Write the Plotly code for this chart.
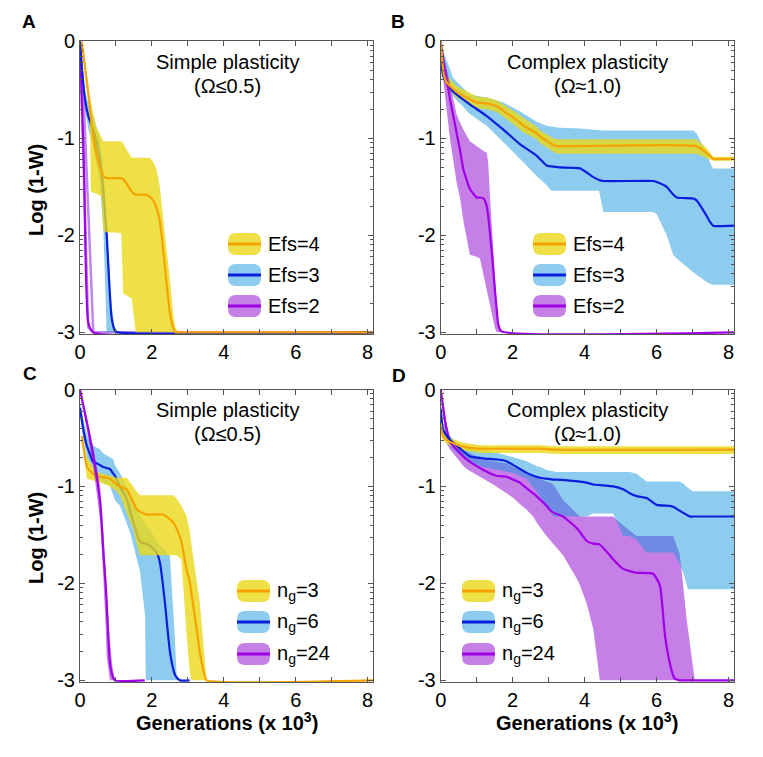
"""Four-panel fitness-convergence figure (log(1-W) vs generations) in Plotly."""

import math

import plotly.graph_objects as go

W, H = 763, 757
OFF = 8  # page body margin offsets the figure in the browser window
FONT = "Liberation Sans, Arial, sans-serif"

# ---------------------------------------------------------------------------
# Data: x in thousands of generations, y = log10(1-W); mean line + band edges
# ---------------------------------------------------------------------------
# Panel A (simple plasticity, Efs)
a_efs4_x = [0.05, 0.2, 0.28, 0.3, 0.45, 0.6, 0.65, 0.75, 1.0, 1.15, 1.2, 1.3, 1.44,
            1.55, 1.8, 1.94, 2.05, 2.13, 2.22, 2.3, 2.41, 2.5, 2.59, 2.65, 2.75, 8.15]
a_efs4_mean = [0, -0.45, -0.7, -0.78, -1.15, -1.35, -1.39, -1.41, -1.41, -1.41, -1.42, -1.47,
               -1.55, -1.58, -1.58, -1.6, -1.65, -1.72, -1.85, -2.1, -2.5, -2.8, -2.95, -3, -3, -3]
a_efs4_hi = [0, -0.4, -0.57, -0.62, -0.88, -1.0, -1.03, -1.03, -1.03, -1.03, -1.05, -1.12,
             -1.2, -1.2, -1.2, -1.2, -1.25, -1.32, -1.5, -1.8, -2.15, -2.45, -2.8, -2.95, -3, -3]
a_efs4_lo = [0, -0.5, -0.75, -1.55, -1.57, -1.6, -1.95, -1.97, -1.97, -1.98, -2.6, -2.62,
             -2.65, -3, -3, -3, -3, -3, -3, -3, -3, -3, -3, -3, -3, -3]

a_efs3_x = [0, 0.05, 0.14, 0.23, 0.4, 0.55, 0.65, 0.7, 0.74, 0.8, 0.88, 0.97, 1.05, 8.15]
a_efs3_mean = [0, -0.26, -0.6, -0.77, -0.95, -1.2, -1.55, -1.8, -1.97, -2.4, -2.85, -2.98,
               -3, -3]
a_efs3_hi = [0, -0.2, -0.5, -0.65, -0.8, -1.0, -1.3, -1.6, -1.85, -2.25, -2.75, -2.95, -3, -3]
a_efs3_lo = [0, -0.3, -0.7, -0.9, -1.15, -1.45, -1.95, -2.5, -3, -3, -3, -3, -3, -3]

a_efs2_x = [0, 0.11, 0.23, 0.37, 8.15]
a_efs2_mean = [0, -1.3, -2.9, -3, -3]
a_efs2_hi = [0, -0.67, -1.75, -3, -3]
a_efs2_lo = [0, -1.41, -2.95, -3, -3]

# Panel B (complex plasticity, Efs)
b_efs4_x = [0, 0.08, 0.16, 0.44, 1.0, 1.28, 1.56, 1.83, 2.11, 2.3, 2.67, 2.76, 3.13, 3.22,
            7.1, 7.39, 7.57, 8.15]
b_efs4_mean = [0, -0.33, -0.42, -0.52, -0.63, -0.64, -0.67, -0.74, -0.81, -0.87, -0.95, -0.98,
               -1.07, -1.08, -1.08, -1.15, -1.21, -1.21]
b_efs4_hi = [0, -0.25, -0.35, -0.46, -0.57, -0.58, -0.61, -0.67, -0.74, -0.79, -0.88, -0.92,
             -1.0, -1.01, -1.01, -1.1, -1.19, -1.19]
b_efs4_lo = [0, -0.38, -0.47, -0.58, -0.69, -0.7, -0.73, -0.8, -0.88, -0.94, -1.01, -1.05,
             -1.14, -1.16, -1.16, -1.2, -1.23, -1.23]

b_efs3_x = [0, 0.07, 0.35, 0.81, 1.28, 1.74, 2.2, 2.67, 2.94, 3.08, 3.31, 3.87, 4.24, 4.4,
            4.52, 5.9, 6.0, 6.28, 6.46, 6.56, 7.02, 7.11, 7.39, 7.48, 7.57, 8.15]
b_efs3_mean = [0, -0.36, -0.52, -0.65, -0.77, -0.91, -1.06, -1.18, -1.28, -1.29, -1.3, -1.31,
               -1.4, -1.43, -1.44, -1.44, -1.45, -1.5, -1.58, -1.61, -1.62, -1.64, -1.8, -1.86,
               -1.9, -1.9]
b_efs3_hi = [0, -0.1, -0.38, -0.55, -0.58, -0.63, -0.72, -0.83, -0.87, -0.88, -0.89, -0.9,
             -0.91, -0.91, -0.92, -0.92, -0.92, -0.92, -0.92, -0.92, -0.92, -0.95, -1.15,
             -1.25, -1.31, -1.31]
b_efs3_lo = [0, -0.4, -0.57, -0.75, -0.87, -1.04, -1.21, -1.39, -1.48, -1.54, -1.54, -1.54,
             -1.54, -1.54, -1.76, -1.76, -1.78, -2.0, -2.2, -2.24, -2.38, -2.41, -2.48, -2.5,
             -2.51, -2.51]

b_efs2_x = [0, 0.07, 0.17, 0.26, 0.44, 0.54, 0.63, 0.81, 1.0, 1.09, 1.19, 1.28, 1.32, 1.37,
            1.42, 1.51, 1.56, 1.6, 1.69, 8.15]
b_efs2_mean = [0, -0.2, -0.4, -0.6, -0.94, -1.13, -1.32, -1.52, -1.61, -1.61, -1.62, -1.7,
               -1.8, -1.98, -2.17, -2.58, -2.78, -2.92, -2.99, -3]
b_efs2_hi = [0, -0.12, -0.3, -0.45, -0.75, -0.84, -0.91, -1.03, -1.08, -1.11, -1.13, -1.15,
             -1.25, -1.6, -1.95, -2.44, -2.7, -2.9, -3, -3]
b_efs2_lo = [0, -0.4, -0.72, -1.01, -1.45, -1.62, -1.85, -2.2, -2.22, -2.24, -2.4, -2.58,
             -2.65, -2.73, -2.8, -2.96, -3, -3, -3, -3]

# Panel C (simple plasticity, ng)
c_ng3_x = [0.05, 0.19, 0.28, 0.46, 0.56, 0.83, 1.02, 1.11, 1.3, 1.48, 1.57, 1.67, 1.85, 2.31,
           2.59, 2.68, 2.82, 2.96, 3.05, 3.1, 3.24, 3.33, 3.38, 3.47, 3.52, 8.15]
c_ng3_mean = [-0.48, -0.79, -0.84, -0.89, -0.9, -0.92, -0.98, -1.0, -1.03, -1.16, -1.23, -1.26,
              -1.29, -1.29, -1.37, -1.43, -1.57, -1.85, -1.98, -2.1, -2.46, -2.7, -2.81, -2.95,
              -3, -3]
c_ng3_hi = [-0.48, -0.7, -0.75, -0.84, -0.86, -0.89, -0.91, -0.91, -0.91, -1.0, -1.05, -1.09,
            -1.09, -1.09, -1.09, -1.12, -1.2, -1.3, -1.45, -1.6, -1.95, -2.19, -2.4, -2.85, -3, -3]
c_ng3_lo = [-0.48, -0.92, -0.93, -0.95, -0.96, -1.0, -1.05, -1.09, -1.27, -1.44, -1.58, -1.71,
            -1.71, -1.71, -1.71, -1.71, -1.75, -2.5, -2.9, -3, -3, -3, -3, -3, -3, -3]

c_ng6_x = [0, 0.09, 0.19, 0.23, 0.37, 0.46, 0.56, 0.65, 0.83, 0.93, 0.97, 1.11, 1.3, 1.39,
           1.67, 1.81, 1.83, 1.94, 2.13, 2.22, 2.36, 2.41, 2.5, 2.59, 2.64, 2.69, 2.78, 3.05]
c_ng6_mean = [-0.19, -0.41, -0.58, -0.62, -0.75, -0.76, -0.78, -0.8, -0.82, -0.87, -0.89, -1.0,
              -1.13, -1.25, -1.57, -1.59, -1.59, -1.61, -1.68, -1.78, -2.19, -2.38, -2.7, -2.88,
              -2.94, -2.97, -3, -3]
c_ng6_hi = [-0.12, -0.3, -0.45, -0.5, -0.58, -0.6, -0.62, -0.66, -0.7, -0.72, -0.78, -0.86,
            -1.0, -1.08, -1.3, -1.38, -1.4, -1.45, -1.55, -1.6, -1.66, -1.69, -1.71, -2.2, -2.57,
            -2.97, -3, -3]
c_ng6_lo = [-0.25, -0.5, -0.7, -0.74, -0.86, -0.9, -0.94, -0.96, -0.99, -1.1, -1.14, -1.2,
            -1.38, -1.47, -1.88, -2.33, -3, -3, -3, -3, -3, -3, -3, -3, -3, -3, -3, -3]

c_ng24_x = [0, 0.19, 0.37, 0.56, 0.65, 0.72, 0.74, 0.83, 0.9, 0.97, 1.8]
c_ng24_mean = [0, -0.34, -0.68, -1.16, -1.68, -2.05, -2.19, -2.81, -2.95, -3, -3]
c_ng24_hi = [0, -0.28, -0.6, -1.0, -1.45, -1.85, -2.0, -2.6, -2.85, -3, -3]
c_ng24_lo = [0, -0.42, -0.8, -1.35, -1.95, -2.5, -2.75, -3, -3, -3, -3]

# Panel D (complex plasticity, ng)
d_ng3_x = [0, 0.07, 0.26, 0.63, 1.09, 2.76, 3.22, 8.15]
d_ng3_mean = [-0.35, -0.49, -0.54, -0.59, -0.61, -0.61, -0.62, -0.62]
d_ng3_hi = [-0.33, -0.45, -0.5, -0.55, -0.575, -0.575, -0.585, -0.585]
d_ng3_lo = [-0.37, -0.53, -0.58, -0.63, -0.655, -0.655, -0.665, -0.665]

d_ng6_x = [0, 0.07, 0.26, 0.44, 0.54, 0.81, 1.09, 1.18, 1.74, 1.83, 2.02, 2.39, 2.66, 2.76,
           2.94, 3.13, 3.22, 3.59, 3.87, 4.05, 4.24, 4.79, 5.07, 5.25, 5.44, 5.72, 6.0, 6.36,
           6.46, 6.64, 6.73, 6.87, 6.92, 7.01, 8.15]
d_ng6_mean = [-0.2, -0.42, -0.52, -0.58, -0.61, -0.69, -0.705, -0.71, -0.73, -0.74, -0.78,
              -0.86, -0.9, -0.91, -0.92, -0.93, -0.93, -0.94, -0.95, -0.96, -0.98, -1.0, -1.03,
              -1.07, -1.1, -1.12, -1.19, -1.2, -1.21, -1.25, -1.27, -1.3, -1.31, -1.31, -1.31]
d_ng6_hi = [-0.1, -0.35, -0.48, -0.55, -0.57, -0.6, -0.61, -0.62, -0.67, -0.68, -0.7, -0.74,
            -0.79, -0.8, -0.83, -0.84, -0.85, -0.85, -0.85, -0.85, -0.85, -0.85, -0.85, -0.85,
            -0.87, -0.95, -0.95, -0.95, -0.95, -0.95, -0.97, -1.02, -1.03, -1.05, -1.05]
d_ng6_lo = [-0.3, -0.5, -0.58, -0.65, -0.68, -0.75, -0.79, -0.8, -0.84, -0.85, -0.86, -0.92,
            -1.05, -1.1, -1.2, -1.31, -1.31, -1.31, -1.31, -1.31, -1.28, -1.28, -1.51, -1.51,
            -1.55, -1.68, -1.68, -1.68, -1.68, -1.8, -1.88, -2.06, -2.06, -2.06, -2.06]

d_ng24_x = [0, 0.12, 0.17, 0.26, 0.63, 0.72, 1.0, 1.09, 1.46, 1.55, 1.83, 2.02, 2.2, 2.39,
            2.57, 2.66, 2.94, 3.03, 3.13, 3.4, 3.78, 3.87, 4.05, 4.24, 4.42, 4.7, 4.79, 5.07,
            5.44, 5.9, 6.09, 6.23, 6.36, 6.46, 6.5, 6.64, 6.69, 6.83, 7.06, 8.15]
d_ng24_mean = [0, -0.32, -0.42, -0.54, -0.69, -0.72, -0.79, -0.81, -0.88, -0.89, -0.9, -0.93,
               -0.96, -1.02, -1.07, -1.1, -1.2, -1.24, -1.27, -1.31, -1.43, -1.47, -1.56, -1.59,
               -1.6, -1.71, -1.75, -1.85, -1.89, -1.9, -2.02, -2.53, -2.81, -2.95, -2.98, -3,
               -3, -3, -3, -3]
d_ng24_hi = [0, -0.28, -0.36, -0.49, -0.62, -0.64, -0.69, -0.71, -0.74, -0.745, -0.76, -0.8,
             -0.83, -0.87, -0.89, -0.9, -0.95, -0.96, -0.98, -1.14, -1.28, -1.31, -1.31, -1.31,
             -1.31, -1.31, -1.31, -1.4, -1.51, -1.51, -1.51, -1.51, -1.51, -1.51, -1.55, -1.7,
             -1.85, -2.36, -3, -3]
d_ng24_lo = [0, -0.45, -0.56, -0.62, -0.79, -0.82, -0.88, -0.9, -0.98, -1.0, -1.07, -1.12,
             -1.18, -1.24, -1.31, -1.37, -1.51, -1.55, -1.6, -1.71, -1.95, -2.02, -2.2, -2.47,
             -3, -3, -3, -3, -3, -3, -3, -3, -3, -3, -3, -3, -3, -3, -3, -3]

x_ticks = [0, 2, 4, 6, 8]
y_ticks = [-3, -2, -1, 0]
y_tick_text = ["-3", "-2", "-1", "0"]
efs_labels = ["Efs=4", "Efs=3", "Efs=2"]
ng_labels = ["n<sub>g</sub>=3", "n<sub>g</sub>=6", "n<sub>g</sub>=24"]

# ---------------------------------------------------------------------------
# Styling
# ---------------------------------------------------------------------------
ORANGE = "#F5A300"
BLUE = "#0A1EDC"
PURPLE = "#A000E8"
YELLOW_FILL = "rgba(234,216,24,0.8)"
BLUE_FILL = "rgba(27,151,223,0.5)"
PURPLE_FILL = "rgba(139,0,205,0.5)"
PURPLE_EDGE = "#BE86EC"
SWATCH = {"y": "#EEE046", "b": "#8DCBEF", "p": "#C580E6"}
LINE = {"y": ORANGE, "b": BLUE, "p": PURPLE}
FILL = {"y": YELLOW_FILL, "b": BLUE_FILL, "p": PURPLE_FILL}

X_MAX = 8.15
Y_MIN = -3.02
COL_X = [(80, 373), (440.7, 734)]
ROW_Y = [(41.3, 334.3), (389.5, 682.3)]


def px(x, y):
    """Target pixel position in the window -> paper coordinates."""
    return (x - OFF) / W, 1 - (y - OFF) / H


def band(x, lo, hi, kind, ax, outline=False):
    xs = list(x) + list(x)[::-1]
    ys = list(hi) + list(lo)[::-1]
    if outline:
        return go.Scatter(x=xs, y=ys, mode="lines", line=dict(color=PURPLE_EDGE, width=2.5),
                          xaxis=ax[0], yaxis=ax[1], hoverinfo="skip", showlegend=False)
    return go.Scatter(x=xs, y=ys, mode="lines", fill="toself", fillcolor=FILL[kind],
                      line=dict(width=0), xaxis=ax[0], yaxis=ax[1],
                      hoverinfo="skip", showlegend=False)


def mean_line(x, y, kind, ax):
    return go.Scatter(x=x, y=y, mode="lines",
                      line=dict(color=LINE[kind], width=2.2, shape="spline", smoothing=0.5),
                      xaxis=ax[0], yaxis=ax[1], showlegend=False)


fig = go.Figure()
AX = {"A": ("x", "y"), "B": ("x2", "y2"), "C": ("x3", "y3"), "D": ("x4", "y4")}

# Panel A: each series drawn band+line in turn (yellow covers the blue line)
ax = AX["A"]
fig.add_trace(band(a_efs2_x, a_efs2_lo, a_efs2_hi, "p", ax, outline=True))
fig.add_trace(mean_line(a_efs2_x, a_efs2_mean, "p", ax))
fig.add_trace(band(a_efs3_x, a_efs3_lo, a_efs3_hi, "b", ax))
fig.add_trace(mean_line(a_efs3_x, a_efs3_mean, "b", ax))
fig.add_trace(band(a_efs4_x, a_efs4_lo, a_efs4_hi, "y", ax))
fig.add_trace(mean_line(a_efs4_x, a_efs4_mean, "y", ax))

# Panel B: bands first, then lines
ax = AX["B"]
fig.add_trace(band(b_efs3_x, b_efs3_lo, b_efs3_hi, "b", ax))
fig.add_trace(band(b_efs4_x, b_efs4_lo, b_efs4_hi, "y", ax))
fig.add_trace(band(b_efs2_x, b_efs2_lo, b_efs2_hi, "p", ax))
fig.add_trace(mean_line(b_efs3_x, b_efs3_mean, "b", ax))
fig.add_trace(mean_line(b_efs2_x, b_efs2_mean, "p", ax))
fig.add_trace(mean_line(b_efs4_x, b_efs4_mean, "y", ax))

# Panel C
ax = AX["C"]
fig.add_trace(band(c_ng6_x, c_ng6_lo, c_ng6_hi, "b", ax))
fig.add_trace(mean_line(c_ng6_x, c_ng6_mean, "b", ax))
fig.add_trace(band(c_ng3_x, c_ng3_lo, c_ng3_hi, "y", ax))
fig.add_trace(mean_line(c_ng3_x, c_ng3_mean, "y", ax))
fig.add_trace(band(c_ng24_x, c_ng24_lo, c_ng24_hi, "p", ax))
fig.add_trace(mean_line(c_ng24_x, c_ng24_mean, "p", ax))

# Panel D
ax = AX["D"]
fig.add_trace(band(d_ng24_x, d_ng24_lo, d_ng24_hi, "p", ax))
fig.add_trace(band(d_ng6_x, d_ng6_lo, d_ng6_hi, "b", ax))
fig.add_trace(band(d_ng3_x, d_ng3_lo, d_ng3_hi, "y", ax))
fig.add_trace(mean_line(d_ng24_x, d_ng24_mean, "p", ax))
fig.add_trace(mean_line(d_ng6_x, d_ng6_mean, "b", ax))
fig.add_trace(mean_line(d_ng3_x, d_ng3_mean, "y", ax))

# Axes
y_minor = [n - math.log10(10 / k) for n in (0, -1, -2) for k in range(2, 10)]
axis_common = dict(showline=True, linecolor="#555555", linewidth=1, mirror="ticks",
                   ticks="inside", ticklen=5, tickcolor="#555555", showgrid=False,
                   zeroline=False, automargin=False,
                   tickfont=dict(family=FONT, size=20, color="black"))
layout_axes = {}
for i, (key, (xa, ya)) in enumerate(AX.items()):
    row, col = divmod(i, 2)
    x0, x1 = COL_X[col]
    y0, y1 = ROW_Y[row]
    dx0, dy1 = px(x0, y0)
    dx1, dy0 = px(x1, y1)
    xname = "xaxis" + ("" if i == 0 else str(i + 1))
    yname = "yaxis" + ("" if i == 0 else str(i + 1))
    layout_axes[xname] = dict(axis_common, domain=[dx0, dx1], range=[0, X_MAX],
                              anchor=ya, tickmode="array", tickvals=x_ticks,
                              ticktext=[str(v) for v in x_ticks],
                              minor=dict(tickmode="array", tickvals=[1, 3, 5, 7],
                                         ticks="inside", ticklen=5, tickcolor="#555555"))
    layout_axes[yname] = dict(axis_common, domain=[dy0, dy1],
                              range=[Y_MIN, 0], anchor=xa, tickmode="array",
                              tickvals=y_ticks, ticktext=y_tick_text,
                              minor=dict(tickmode="array", tickvals=y_minor,
                                         ticks="inside", ticklen=3, tickcolor="#555555"))

annotations = []
shapes = []


def text(x, y, s, size=20, bold=False, anchor="center", angle=0):
    xp, yp = px(x, y)
    annotations.append(dict(x=xp, y=yp, xref="paper", yref="paper", showarrow=False,
                            text=f"<b>{s}</b>" if bold else s, textangle=angle,
                            xanchor=anchor, yanchor="middle",
                            font=dict(family=FONT, size=size, color="black")))


def legend_entry(x0, yc, kind, label):
    w, h, r = 33, 22, 8
    xa, xb, ya, yb = x0, x0 + w, yc - h / 2, yc + h / 2
    pts = [("M", xa + r, ya), ("L", xb - r, ya), ("Q", xb, ya, xb, ya + r), ("L", xb, yb - r),
           ("Q", xb, yb, xb - r, yb), ("L", xa + r, yb), ("Q", xa, yb, xa, yb - r),
           ("L", xa, ya + r), ("Q", xa, ya, xa + r, ya)]
    path = ""
    for p in pts:
        coords = p[1:]
        segs = []
        for j in range(0, len(coords), 2):
            qx, qy = px(coords[j], coords[j + 1])
            segs.append(f"{qx:.5f},{qy:.5f}")
        path += p[0] + " " + " ".join(segs) + " "
    shapes.append(dict(type="path", path=path + "Z", xref="paper", yref="paper",
                       fillcolor=SWATCH[kind], line=dict(width=0), layer="above"))
    lx0, ly = px(xa, yc)
    lx1, _ = px(xb, yc)
    shapes.append(dict(type="line", x0=lx0, x1=lx1, y0=ly, y1=ly, xref="paper",
                       yref="paper", line=dict(color=LINE[kind], width=3), layer="above"))
    text(xb + 5, yc, label, anchor="left")


# Panel letters and axis titles
text(29, 21, "A", size=19, bold=True)
text(398, 22, "B", size=19, bold=True)
text(30, 373, "C", size=19, bold=True)
text(399, 375, "D", size=19, bold=True)
text(36, 190, "Log (1-W)", bold=True, angle=-90)
text(36, 538, "Log (1-W)", bold=True, angle=-90)
text(227, 721, "Generations (x 10<sup>3</sup>)", bold=True)
text(587, 721, "Generations (x 10<sup>3</sup>)", bold=True)

# In-panel titles
for cx, ty, title, sub in [(227, 62, "Simple plasticity", "(Ω≤0.5)"),
                           (587, 62, "Complex plasticity", "(Ω≈1.0)"),
                           (227, 410, "Simple plasticity", "(Ω≤0.5)"),
                           (587, 410, "Complex plasticity", "(Ω≈1.0)")]:
    text(cx, ty, title)
    text(cx, ty + 24, sub)

# Custom legends
for x0, ys, labels in [(228, (244, 275, 306), efs_labels),
                       (533, (244, 275, 306), efs_labels),
                       (237, (591, 622, 654), ng_labels),
                       (462, (591, 622, 654), ng_labels)]:
    for yc, kind, lab in zip(ys, ("y", "b", "p"), labels):
        legend_entry(x0, yc, kind, lab)

fig.update_layout(width=W, height=H, autosize=False, margin=dict(l=0, r=0, t=0, b=0, pad=0),
                  paper_bgcolor="white", plot_bgcolor="white", showlegend=False,
                  annotations=annotations, shapes=shapes, **layout_axes)

fig.write_html("out.html")
